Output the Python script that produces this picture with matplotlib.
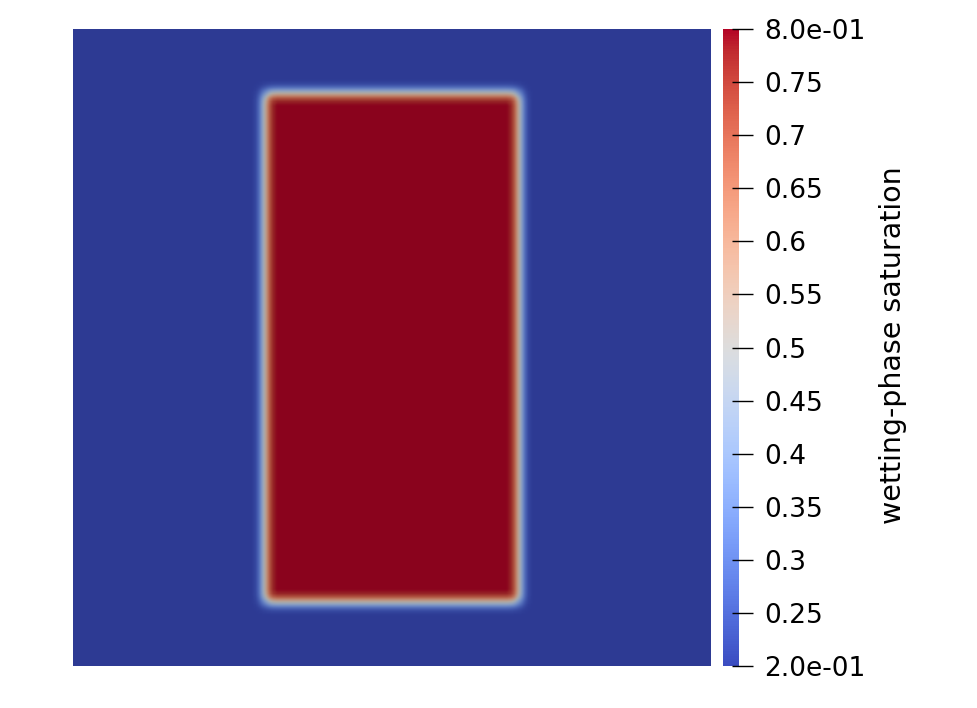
import numpy as np
import matplotlib
matplotlib.use('Agg')
import matplotlib.pyplot as plt
from matplotlib.colors import ListedColormap, Normalize
from matplotlib.cm import ScalarMappable

# saturation range shown by the color bar
s_min, s_max = 0.2, 0.8

# wetting-phase block in the unit square (domain coords)
block_x = [0.3, 0.7]
block_y = [0.1, 0.9]

# saturation across the block edge
# (offset from the edge, positive = inside the block)
edge_offset = [-0.032, -0.020, -0.013, -0.008, -0.004, 0.0, 0.004, 0.008, 0.013, 0.020, 0.032]
edge_sat = [0.20, 0.20, 0.23, 0.30, 0.40, 0.50, 0.60, 0.70, 0.77, 0.80, 0.80]

cbar_ticks = [0.2, 0.25, 0.3, 0.35, 0.4, 0.45, 0.5, 0.55, 0.6, 0.65, 0.7, 0.75, 0.8]
cbar_labels = ['2.0e-01', '0.25', '0.3', '0.35', '0.4', '0.45', '0.5',
               '0.55', '0.6', '0.65', '0.7', '0.75', '8.0e-01']

n = 400
xs = (np.arange(n) + 0.5) / n
X, Y = np.meshgrid(xs, xs)


def edge_weight(coord, lo, hi):
    # distance inside the interval, mapped through the edge profile
    d = np.minimum(coord - lo, hi - coord)
    prof = (np.interp(d, edge_offset, edge_sat) - s_min) / (s_max - s_min)
    return prof


field = s_min + (s_max - s_min) * edge_weight(X, *block_x) * edge_weight(Y, *block_y)

# field is drawn with ParaView-like lighting, a bit darker than the bar
base = plt.get_cmap('coolwarm')(np.linspace(0, 1, 256))
shade = base.copy()
shade[:, :3] = shade[:, :3] * 0.77
field_cmap = ListedColormap(shade)

fig = plt.figure(figsize=(9.78, 7.08), dpi=100)

ax = fig.add_axes([73 / 978, 42 / 708, 638 / 978, 637 / 708])
ax.imshow(field, cmap=field_cmap, vmin=s_min, vmax=s_max, origin='lower',
          extent=[0, 1, 0, 1], aspect='auto', interpolation='bilinear')
ax.axis('off')

cax = fig.add_axes([723 / 978, 42 / 708, 16 / 978, 637 / 708])
sm = ScalarMappable(norm=Normalize(s_min, s_max), cmap='coolwarm')
cb = fig.colorbar(sm, cax=cax)
cb.outline.set_visible(False)
cb.set_ticks(cbar_ticks)
cb.set_ticklabels(cbar_labels)
cax.tick_params(length=0, pad=18, labelsize=19)
cax.hlines(cbar_ticks, 0.56, 1.88, transform=cax.get_yaxis_transform(),
           color='black', lw=1, clip_on=False)

fig.text(893 / 978, 0.513, 'wetting-phase saturation', rotation=90,
         ha='center', va='center', fontsize=20.5)

fig.savefig('out.png', dpi=100)
